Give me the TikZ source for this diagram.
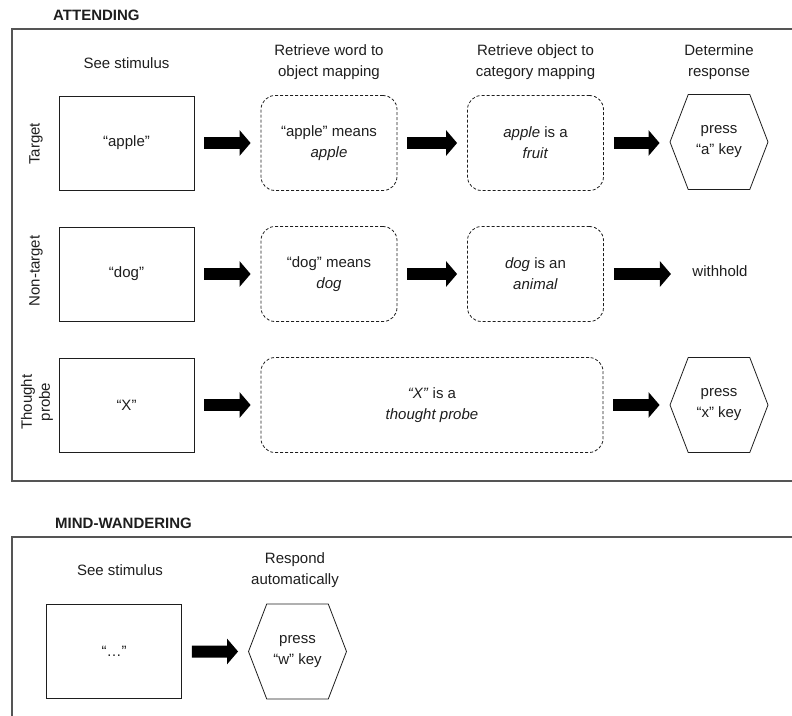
\documentclass[tikz,border=0pt]{standalone}
\usepackage{fontspec}
\setmainfont{Liberation Sans}
\usetikzlibrary{
    arrows.meta,
    shapes.symbols,
    positioning
}
\definecolor{ink}{HTML}{1E1E1E}
\definecolor{framegray}{HTML}{555555}
\tikzset{
    % Stimulus screen style
    screen/.style={
        rectangle,
        draw=ink,
        line width=0.9pt,
        minimum width=135pt,
        minimum height=94pt,
        align=center
    },
    % Retrieval stage style
    stage/.style={
        rectangle,
        rounded corners=14pt,
        draw=ink,
        dash pattern=on 3pt off 2pt,
        line width=0.8pt,
        minimum width=136pt,
        minimum height=95pt,
        align=center
    },
    % Response style
    response/.style={
        signal,
        signal to=east and west,
        signal pointer angle=138,
        draw=ink,
        line width=0.8pt,
        minimum width=98pt,
        minimum height=95pt,
        inner xsep=0pt,
        align=center
    },
    % Block arrow style
    bigarrow/.style={
        -{Triangle[length=11pt, width=25pt]},
        line width=12pt,
        color=black,
        shorten <=10pt,
        shorten >=10pt
    },
    % Frame style
    panel/.style={
        line width=1.2pt,
        draw=framegray
    },
    % Section title style
    phase/.style={
        font=\fontsize{15}{18}\selectfont\bfseries,
        anchor=west,
        inner sep=0pt
    },
    % Column and row titles
    colhead/.style={align=center},
    rowlabel/.style={align=center, rotate=90}
}

\begin{document}
\begin{tikzpicture}[
        x=1pt, y=-1pt,
        every node/.style={font=\fontsize{15}{21}\selectfont, text=ink}
    ]
        \useasboundingbox (0,0) rectangle (792,715);

        % Attending panel
        \node[phase] (att) at (53,15) {ATTENDING};
        \draw[panel] (792,29) -- (12,29) -- (12,481) -- (792,481);

        % Column titles
        \node[colhead] (h1) at (126.5,63) {See stimulus};
        \node[colhead] (h2) at (329,62.5) {Retrieve word to\\object mapping};
        \node[colhead] (h3) at (535.5,62.5) {Retrieve object to\\category mapping};
        \node[colhead] (h4) at (719,62.5) {Determine\\response};

        % Row titles
        \node[rowlabel] (l1) at (36,144) {Target};
        \node[rowlabel] (l2) at (36,271) {Non-target};
        \node[rowlabel, font=\fontsize{15}{18}\selectfont] (l3) at (37,402) {Thought\\probe};

        % Target row
        \node[screen] (s1) at (126.5,143) {“apple”};
        \node[stage] (w1) at (329,143) {“apple” means\\\textit{apple}};
        \node[stage] (c1) at (535.5,143) {\textit{apple} is a\\\textit{fruit}};
        \node[response] (r1) at (719,142) {press\\“a” key};

        % Non-target row
        \node[screen] (s2) at (126.5,274) {“dog”};
        \node[stage] (w2) at (329,274) {“dog” means\\\textit{dog}};
        \node[stage] (c2) at (535.5,274) {\textit{dog} is an\\\textit{animal}};
        \node (r2) at (720,271) {withhold};

        % Thought probe row
        \node[screen] (s3) at (126.5,405) {“X”};
        \node[stage, minimum width=342pt] (p3) at (432,405) {\textit{“X”} is a\\\textit{thought probe}};
        \node[response] (r3) at (719,405) {press\\“x” key};

        % Connections
        \draw[bigarrow] (s1) -- (w1);
        \draw[bigarrow] (w1) -- (c1);
        \draw[bigarrow] (c1) -- (c1 -| r1.west);
        \draw[bigarrow] (s2) -- (w2);
        \draw[bigarrow] (w2) -- (c2);
        \draw[bigarrow] (c2.east) -- ([xshift=-8pt]c2.east -| r2.west);
        \draw[bigarrow] (s3) -- (p3);
        \draw[bigarrow] (p3) -- (r3);

        % Mind-wandering panel
        \node[phase] (mw) at (55,523) {MIND-WANDERING};
        \draw[panel] (792,537) -- (12,537) -- (12,720);

        \node[colhead] (m1) at (120,570) {See stimulus};
        \node[colhead] (m2) at (295,570) {Respond\\automatically};

        \node[screen] (ms) at (114,651.5) {“…”};
        \node[response] (mr) at (297.5,651.5) {press\\“w” key};
        \draw[bigarrow] (ms) -- (mr);

    \end{tikzpicture}
\end{document}
